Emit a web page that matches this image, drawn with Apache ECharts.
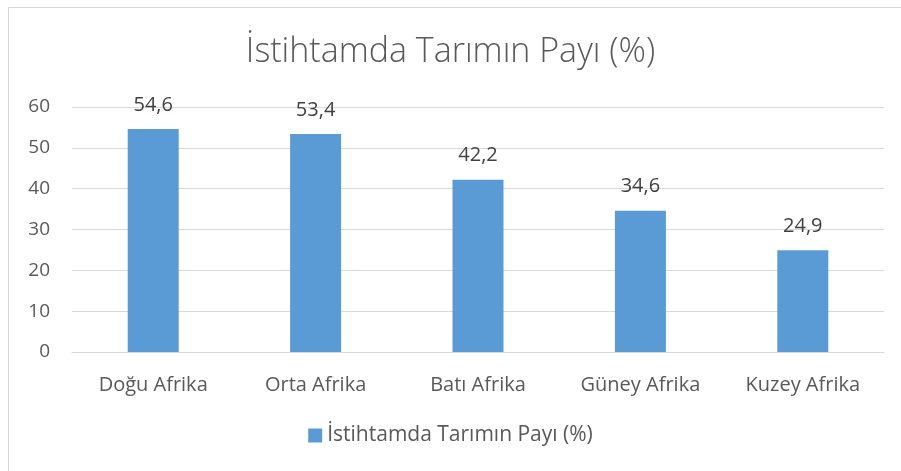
<!DOCTYPE html>
<html>
<head>
<meta charset="utf-8">
<script src="https://cdn.jsdelivr.net/npm/echarts@6/dist/echarts.min.js"></script>
<style>
  html, body { margin: 0; padding: 0; background: #fff; }
  #chart { width: 901px; height: 471px; }
</style>
</head>
<body>
<div id="chart"></div>
<script>
const categories = ['Doğu Afrika', 'Orta Afrika', 'Batı Afrika', 'Güney Afrika', 'Kuzey Afrika']
const values = [54.6, 53.4, 42.2, 34.6, 24.9]
const seriesName = 'İstihtamda Tarımın Payı (%)'

const chart = echarts.init(document.getElementById('chart'))

chart.setOption({
  backgroundColor: '#fff',
  graphic: [{
    type: 'rect',
    shape: { x: 8.5, y: 7.5, width: 1000, height: 1000 },
    style: { fill: 'none', stroke: '#d9d9d9', lineWidth: 1 },
    silent: true
  }],
  title: {
    text: 'İstihtamda Tarımın Payı (%)',
    left: 'center',
    top: 30,
    textStyle: {
      fontFamily: 'Open Sans',
      fontWeight: 300,
      fontSize: 34,
      color: '#595959'
    }
  },
  legend: {
    bottom: 20,
    left: 'center',
    icon: 'rect',
    itemWidth: 14,
    itemHeight: 14,
    itemGap: 8,
    textStyle: { fontFamily: 'Open Sans', fontSize: 21, color: '#595959' }
  },
  grid: { left: 72, right: 17, top: 107, bottom: 119 },
  xAxis: {
    type: 'category',
    data: categories,
    axisLine: { lineStyle: { color: '#d9d9d9', width: 1 } },
    axisTick: { show: false },
    axisLabel: { fontFamily: 'Open Sans', fontSize: 20, color: '#595959', margin: 23 }
  },
  yAxis: {
    type: 'value',
    min: 0,
    max: 60,
    interval: 10,
    axisLine: { show: false },
    axisTick: { show: false },
    axisLabel: { fontFamily: 'Open Sans', fontSize: 19, color: '#595959', margin: 22 },
    splitLine: { lineStyle: { color: '#d9d9d9', width: 1 } }
  },
  series: [{
    name: seriesName,
    type: 'bar',
    data: values,
    barWidth: 51,
    itemStyle: { color: '#5b9bd5' },
    label: {
      show: true,
      position: 'top',
      distance: 14,
      fontFamily: 'Open Sans',
      fontSize: 20,
      color: '#404040',
      formatter: p => String(p.value).replace('.', ',')
    }
  }]
})
</script>
</body>
</html>
